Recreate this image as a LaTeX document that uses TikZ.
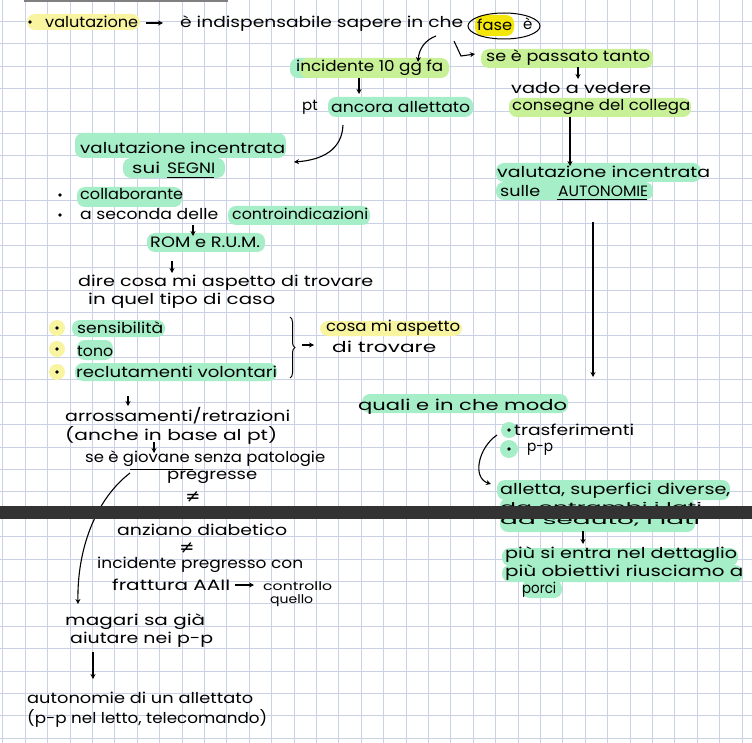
\documentclass[tikz,border=0pt]{standalone}
\usepackage{fontspec}
\usepackage{graphicx}
\usetikzlibrary{arrows.meta,decorations.pathreplacing}
\newfontfamily\hand{Poppins}
\newfontfamily\sym{DejaVu Sans}
\definecolor{mint}{RGB}{165,238,200}
\definecolor{lime}{RGB}{200,240,150}
\definecolor{paley}{RGB}{248,244,160}
\definecolor{brighty}{RGB}{245,230,10}
\definecolor{gridc}{RGB}{200,210,228}
\definecolor{barc}{RGB}{51,51,51}
\newsavebox\fwbox
\newlength\fwlen
\newcommand\fw[2]{\sbox\fwbox{#2}\setlength\fwlen{\wd\fwbox}\pgfmathsetmacro\fwf{#1/\fwlen}\scalebox{\fwf}[1]{\usebox\fwbox}}
\begin{document}
\begin{tikzpicture}[x=1pt,y=1pt,
  txt/.style={inner sep=0pt,anchor=west,font=\hand\fontsize{15}{17}\selectfont},
  stxt/.style={inner sep=0pt,anchor=west,font=\hand\fontsize{12}{13}\selectfont},
  neq/.style={inner sep=0pt,font=\sym\fontsize{18}{19}\selectfont},
  arr/.style={line width=1.1pt,-{Stealth[length=5pt,width=5pt]}},
  hl/.style={rounded corners=8pt},
  uline/.style={line width=1pt}]
\useasboundingbox (0,0) rectangle (752,-743);
\fill[white] (0,0) rectangle (752,-743);
% grid
\foreach \i in {0,...,33} {\draw[gridc,line width=0.7pt] ({2.8+22.4*\i},0) -- ({2.8+22.4*\i},-743);}
\foreach \j in {0,...,33} {\draw[gridc,line width=0.7pt] (0,{-(21.4+22.4*\j)}) -- (752,{-(21.4+22.4*\j)});}
\draw[gray,line width=1.6pt] (24,-0.8) -- (228,-0.8);
% highlights
\fill[paley,hl] (27,-14) rectangle (140,-30);
\fill[brighty,hl] (475,-15) rectangle (514,-36);
\fill[mint,hl] (290,-58) rectangle (330,-78);
\fill[lime,hl] (300,-58) rectangle (449,-78);
\fill[lime,hl] (481,-49) rectangle (653,-68);
\fill[mint,hl] (328,-97) rectangle (473,-117);
\fill[mint,hl] (75,-133) rectangle (286,-158);
\fill[mint,hl] (123,-158) rectangle (225,-178);
\fill[mint,hl] (77,-187) rectangle (182,-207);
\fill[mint,hl] (228,-206) rectangle (370,-225);
\fill[mint,hl] (147,-233) rectangle (265,-252);
\fill[mint,hl] (72,-320) rectangle (165,-337);
\fill[mint,hl] (77,-340) rectangle (113,-360);
\fill[mint,hl] (75,-363) rectangle (277,-381);
\foreach \yy in {328,349,372} {\fill[paley] (57,-\yy) circle (8);}
\fill[paley,hl] (320,-321) rectangle (462,-336);
\fill[lime,hl] (509,-98) rectangle (691,-117);
\fill[mint,hl] (496,-163) rectangle (701,-182);
\fill[mint,hl] (496,-182) rectangle (653,-200);
\fill[mint,hl] (362,-394) rectangle (568,-413);
\fill[mint] (509,-430) circle (8);
\fill[mint] (509,-449) circle (9);
\fill[mint,hl] (497,-480) rectangle (730,-500);
\fill[mint,hl] (500,-498) rectangle (695,-532);
\fill[mint,hl] (502,-548) rectangle (738,-566);
\fill[mint,hl] (502,-565) rectangle (743,-582);
\fill[mint,hl] (522,-580) rectangle (562,-598);
% bullets
\foreach \bx/\by in {30/22,60/195,60/215,57/328,57/349,57/372,509/430,509/449} {\fill (\bx,-\by) circle (1.9);}
% texts left/top
\node[txt] (t1) at (45,-22) {\fw{93}{valutazione}};
\node[txt] (t2) at (180,-24) {\fw{283}{è indispensabile sapere in che}};
\node[txt] (t3) at (477,-25) {\fw{35}{fase}};
\node[txt] (t4) at (523,-24) {è};
\draw[line width=1pt] (504,-26) ellipse (36 and 13);
\node[txt] (t5) at (296,-68) {\fw{147}{incidente 10 gg fa}};
\node[txt] (t6) at (486,-58) {\fw{164}{se è passato tanto}};
\node[txt] (t7) at (302,-107) {pt};
\node[txt] (t7b) at (331,-107) {\fw{139}{ancora allettato}};
\node[txt] (t8) at (80,-148) {\fw{205}{valutazione incentrata}};
\node[txt] (t9) at (132,-168) {\fw{28}{sui}};
\node[txt] (t9b) at (167,-168) {\fw{48}{SEGNI}};
\draw[uline] (167,-178) -- (214,-178);
\node[txt] (t10) at (80,-194) {\fw{103}{collaborante}};
\node[txt] (t11) at (80,-214) {\fw{138}{a seconda delle}};
\node[txt] (t11b) at (232,-214) {\fw{136}{controindicazioni}};
\node[txt] (t12) at (150,-242) {\fw{110}{ROM e R.U.M.}};
\node[txt] (t13) at (78,-283) {\fw{295}{dire cosa mi aspetto di trovare}};
\node[txt] (t14) at (88,-301) {\fw{187}{in quel tipo di caso}};
\node[txt] (t15) at (77,-328) {\fw{86}{sensibilità}};
\node[txt] (t16) at (77,-351) {\fw{36}{tono}};
\node[txt] (t17) at (76,-372) {\fw{201}{reclutamenti volontari}};
\draw[decorate,decoration={brace,amplitude=5pt},line width=1pt] (290,-317) -- (290,-378);
\node[txt] (t18) at (326,-328) {\fw{134}{cosa mi aspetto}};
\node[txt] (t19) at (332,-347) {\fw{104}{di trovare}};
\node[txt] (t20) at (65,-416) {\fw{225}{arrossamenti/retrazioni}};
\node[txt] (t21) at (65,-435) {\fw{212}{(anche in base al pt)}};
\node[txt] (t22) at (85,-459) {\fw{240}{se è giovane senza patologie}};
\draw[uline] (130,-469) -- (193,-469);
\node[txt] (t23) at (167,-477) {\fw{90}{pregresse}};
\node[neq] (n1) at (193,-497) {≠};
\node[txt] (t25) at (117,-530) {\fw{170}{anziano diabetico}};
\node[neq] (n2) at (187,-548) {≠};
\node[txt] (t27) at (97,-565) {\fw{206}{incidente pregresso con}};
\node[txt] (t28) at (112,-585) {\fw{118}{frattura AAII}};
\node[stxt] (t28b) at (263,-586) {\fw{69}{controllo}};
\node[stxt] (t28c) at (270,-601) {\fw{43}{quello}};
\node[txt] (t29) at (65,-622) {\fw{140}{magari sa già}};
\node[txt] (t30) at (70,-640) {\fw{143}{aiutare nei p-p}};
\node[txt] (t31) at (27,-698) {\fw{226}{autonomie di un allettato}};
\node[txt] (t32) at (27,-718) {\fw{240}{(p-p nel letto, telecomando)}};
% right texts
\node[txt] (t33) at (511,-88) {\fw{140}{vado a vedere}};
\node[txt] (t34) at (512,-107) {\fw{178}{consegne del collega}};
\node[txt] (t35) at (497,-172) {\fw{213}{valutazione incentrata}};
\node[txt] (t36) at (500,-191) {\fw{40}{sulle}};
\node[txt] (t36b) at (558,-191) {\fw{90}{AUTONOMIE}};
\draw[uline] (557,-200) -- (647,-200);
\node[txt] (t37) at (358,-407) {\fw{209}{quali e in che modo}};
\node[txt] (t38) at (514,-430) {\fw{120}{trasferimenti}};
\node[txt] (t39) at (527,-449) {\fw{26}{p-p}};
\node[txt] (t40) at (500,-491) {\fw{230}{alletta, superfici diverse,}};
\node[stxt] (t41) at (500,-507) {\fw{202}{da entrambi i lati}};
\node[stxt] (t42) at (500,-521) {\fw{200}{da seduto, i lati}};
\node[txt] (t43) at (505,-555) {\fw{232}{più si entra nel dettaglio}};
\node[txt] (t44) at (505,-573) {\fw{238}{più obiettivi riusciamo a}};
\node[txt] (t45) at (522,-590) {\fw{34}{porci}};
% arrow coordinates
\coordinate (a1s) at (146,-23); \coordinate (a1e) at (163,-23);
\coordinate (a2s) at (436,-36); \coordinate (a2e) at (418,-62);
\coordinate (a3s) at (454,-41); \coordinate (a3m) at (461,-56); \coordinate (a3e) at (475,-54);
\coordinate (a4s) at (359,-78); \coordinate (a4e) at (359,-94);
\coordinate (a5s) at (343,-125); \coordinate (a5e) at (294,-162);
\coordinate (a6s) at (578,-67); \coordinate (a6e) at (578,-79);
\coordinate (a7s) at (570,-117); \coordinate (a7e) at (570,-166);
\coordinate (a8s) at (193,-225); \coordinate (a8e) at (193,-236);
\coordinate (a9s) at (172,-261); \coordinate (a9e) at (172,-273);
\coordinate (a10s) at (302,-345); \coordinate (a10e) at (314,-345);
\coordinate (a11s) at (128,-396); \coordinate (a11e) at (128,-406);
\coordinate (a12s) at (154,-442); \coordinate (a12e) at (154,-453);
\coordinate (a13s) at (130,-473); \coordinate (a13e) at (78,-604);
\coordinate (a14s) at (235,-585); \coordinate (a14e) at (254,-585);
\coordinate (a15s) at (93,-652); \coordinate (a15e) at (93,-679);
\coordinate (a16s) at (593,-222); \coordinate (a16e) at (593,-377);
\coordinate (a17s) at (497,-435); \coordinate (a17e) at (491,-484);
\coordinate (a18s) at (583,-531); \coordinate (a18e) at (583,-544);
\draw[arr] (a1s) -- (a1e);
\draw[arr] (a2s) .. controls (425,-40) and (419,-49) .. (a2e);
\draw[arr] (a3s) -- (a3m) -- (a3e);
\draw[arr] (a4s) -- (a4e);
\draw[arr] (a5s) .. controls (342,-150) and (322,-160) .. (a5e);
\draw[arr] (a6s) -- (a6e);
\draw[arr] (a7s) -- (a7e);
\draw[arr] (a8s) -- (a8e);
\draw[arr] (a9s) -- (a9e);
\draw[arr] (a10s) -- (a10e);
\draw[arr] (a11s) -- (a11e);
\draw[arr] (a12s) -- (a12e);
\draw[arr] (a13s) .. controls (95,-500) and (77,-550) .. (a13e);
\draw[arr] (a14s) -- (a14e);
\draw[arr] (a15s) -- (a15e);
\draw[arr] (a16s) -- (a16e);
\draw[arr] (a17s) .. controls (478,-448) and (472,-478) .. (a17e);
\draw[arr] (a18s) -- (a18e);
% dark bar
\fill[barc] (0,-506) rectangle (752,-519);
\end{tikzpicture}
\end{document}
